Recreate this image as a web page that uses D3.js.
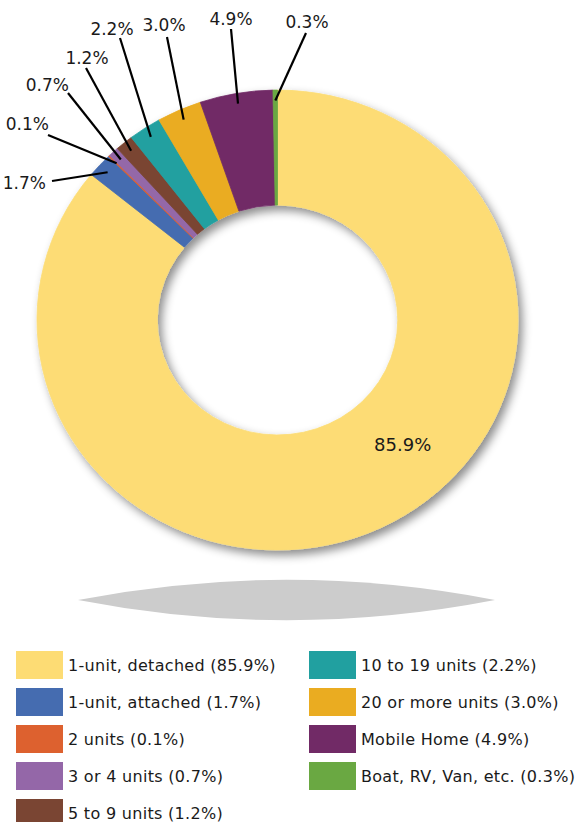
<!DOCTYPE html>
<html>
<head>
<meta charset="utf-8">
<script src="https://cdn.jsdelivr.net/npm/d3@7"></script>
<style>
  html, body { margin: 0; padding: 0; background: #ffffff; }
  svg { display: block; }
  text { font-family: "DejaVu Sans", "Noto Sans", sans-serif; fill: #1a1a1a; }
</style>
</head>
<body>
<svg id="chart" width="576" height="822"></svg>
<script>
// Housing units by structure type (share of total, %)
const categories = [
  "1-unit, detached", "1-unit, attached", "2 units", "3 or 4 units", "5 to 9 units",
  "10 to 19 units", "20 or more units", "Mobile Home", "Boat, RV, Van, etc."
];
const values = [85.9, 1.7, 0.1, 0.7, 1.2, 2.2, 3.0, 4.9, 0.3];
const valueLabels = ["85.9%", "1.7%", "0.1%", "0.7%", "1.2%", "2.2%", "3.0%", "4.9%", "0.3%"];
const colors = ["#fddc74", "#456cb0", "#dd612f", "#9467a8", "#7a4533",
                "#21a0a0", "#eaac21", "#712a66", "#6aa842"];

// Layout
const W = 576, H = 822;
const cx = 277.5, cy = 320;
const R = 240.5, r0 = R / 2;
const squash = 0.956;               // slight vertical flattening of the ring

// Leader-line label layout (outer end of leader, text position, anchor)
const leaderLayout = [
  null,
  { lx: 52,  ly: 181, tx: 46,  ty: 189, anchor: "end" },
  { lx: 48,  ly: 135, tx: 49,  ty: 130, anchor: "end" },
  { lx: 68,  ly: 93,  tx: 69,  ty: 91,  anchor: "end" },
  { lx: 86,  ly: 68,  tx: 87,  ty: 64,  anchor: "middle" },
  { lx: 120, ly: 38,  tx: 112, ty: 35,  anchor: "middle" },
  { lx: 167, ly: 37,  tx: 164, ty: 31,  anchor: "middle" },
  { lx: 231, ly: 29,  tx: 231, ty: 25,  anchor: "middle" },
  { lx: 306, ly: 33,  tx: 307, ty: 28,  anchor: "middle" }
];

const svg = d3.select("#chart");
const defs = svg.append("defs");
const f = defs.append("filter").attr("id", "ringShadow")
  .attr("x", "-20%").attr("y", "-20%").attr("width", "140%").attr("height", "140%");
f.append("feDropShadow").attr("dx", 4).attr("dy", 5).attr("stdDeviation", 5)
  .attr("flood-color", "#000").attr("flood-opacity", 0.45);

// Flat lens-shaped floor shadow under the ring
const lens = { x0: 78, x1: 495, y: 600, h: 20 };
const half = (lens.x1 - lens.x0) / 2;
const lensR = (half * half + lens.h * lens.h) / (2 * lens.h);
svg.append("path")
  .attr("d", `M${lens.x0},${lens.y} A${lensR},${lensR} 0 0,1 ${lens.x1},${lens.y} A${lensR},${lensR} 0 0,1 ${lens.x0},${lens.y} Z`)
  .attr("fill", "#cccccc");

// Ring
const data = categories.map((c, i) => ({ name: c, value: values[i], label: valueLabels[i], color: colors[i], i }));
const pie = d3.pie().value(d => d.value).sort(null).startAngle(0).endAngle(2 * Math.PI);
const arcs = pie(data);
const arc = d3.arc().innerRadius(r0).outerRadius(R);

const ring = svg.append("g")
  .attr("filter", "url(#ringShadow)")
  .append("g")
  .attr("transform", `translate(${cx},${cy}) scale(1,${squash})`);

ring.selectAll("path").data(arcs).join("path")
  .attr("d", arc)
  .attr("fill", d => d.data.color)
  .attr("stroke", d => d.data.color)
  .attr("stroke-width", 0.8);

// Point on the ring at a given angle and radius, in page coordinates
function ringPoint(angle, rad) {
  return [cx + rad * Math.sin(angle), cy - rad * Math.cos(angle) * squash];
}

// Big slice label inside the ring
const big = arcs[0];
const bigAngle = big.startAngle + (big.endAngle - big.startAngle) * 0.44;
const bp = ringPoint(bigAngle, (R + r0) / 2);
svg.append("text")
  .attr("x", bp[0]).attr("y", bp[1] + 7)
  .attr("text-anchor", "middle")
  .attr("font-size", 18)
  .text(big.data.label);

// Leader lines and labels for the small slices
const labels = svg.append("g");
arcs.forEach((a, i) => {
  const L = leaderLayout[i];
  if (!L) return;
  const mid = (a.startAngle + a.endAngle) / 2;
  const p = ringPoint(mid, R * 0.955);
  labels.append("line")
    .attr("x1", p[0]).attr("y1", p[1])
    .attr("x2", L.lx).attr("y2", L.ly)
    .attr("stroke", "#000").attr("stroke-width", 2.2);
  labels.append("text")
    .attr("x", L.tx).attr("y", L.ty)
    .attr("text-anchor", L.anchor)
    .attr("font-size", 17)
    .text(a.data.label);
});

// Legend: two columns
const legend = svg.append("g");
const colX = [16, 309], rowY0 = 651, rowStep = 37, perCol = 5;
data.forEach((d, i) => {
  const col = i < perCol ? 0 : 1;
  const row = i < perCol ? i : i - perCol;
  const x = colX[col], y = rowY0 + row * rowStep;
  legend.append("rect")
    .attr("x", x).attr("y", y).attr("width", 47).attr("height", 28)
    .attr("fill", d.color);
  legend.append("text")
    .attr("x", x + 52).attr("y", y + 20)
    .attr("font-size", 16)
    .attr("letter-spacing", 0.3)
    .text(`${d.name} (${d.label})`);
});
</script>
</body>
</html>
